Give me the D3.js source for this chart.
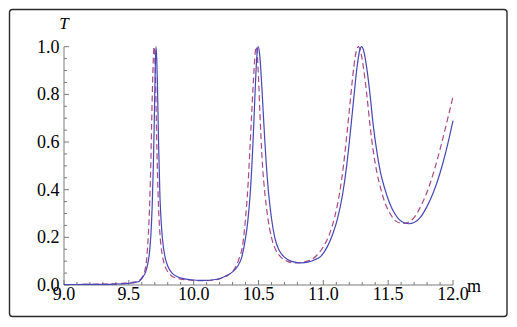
<!DOCTYPE html>
<html>
<head>
<meta charset="utf-8">
<script src="https://cdn.jsdelivr.net/npm/d3@7"></script>
<style>
  body { margin: 0; background: #fff; }
  text { font-family: "Liberation Serif", "DejaVu Serif", serif; }
</style>
</head>
<body>
<div id="chart"></div>
<script>
{
  const width = 517;
  const height = 327;
  const serif = "Liberation Serif";

  // tick values
  const xTicks = [9.0, 9.5, 10.0, 10.5, 11.0, 11.5, 12.0];
  const yTicks = [0.0, 0.2, 0.4, 0.6, 0.8, 1.0];

  // solid curve, [m, T]
  const solidCurve = [
    [9.00, 0.002], [9.10, 0.002], [9.20, 0.003], [9.30, 0.003], [9.40, 0.004], [9.45, 0.005], [9.50, 0.007], [9.55, 0.011],
    [9.58, 0.016], [9.61, 0.035], [9.63, 0.055], [9.65, 0.10], [9.66, 0.14], [9.67, 0.21], [9.68, 0.33], [9.69, 0.52],
    [9.695, 0.65], [9.70, 0.80], [9.705, 0.94], [9.7095, 1.0], [9.715, 0.95], [9.72, 0.86], [9.725, 0.72], [9.73, 0.58],
    [9.74, 0.37], [9.75, 0.26], [9.76, 0.19], [9.78, 0.115], [9.80, 0.08], [9.83, 0.052], [9.87, 0.036], [9.92, 0.027],
    [9.98, 0.022], [10.05, 0.019], [10.12, 0.02], [10.18, 0.024], [10.24, 0.036], [10.30, 0.055], [10.34, 0.08], [10.37, 0.115],
    [10.397, 0.187], [10.417, 0.265], [10.437, 0.39], [10.447, 0.48], [10.457, 0.59], [10.467, 0.72], [10.477, 0.852], [10.487, 0.958],
    [10.497, 1.0], [10.507, 0.976], [10.517, 0.911], [10.527, 0.82], [10.537, 0.719], [10.547, 0.621], [10.557, 0.532], [10.577, 0.39],
    [10.60, 0.28], [10.625, 0.20], [10.66, 0.145], [10.70, 0.117], [10.75, 0.10], [10.80, 0.094], [10.83, 0.093], [10.88, 0.096],
    [10.93, 0.105], [10.98, 0.12], [11.03, 0.16], [11.07, 0.21], [11.11, 0.28], [11.15, 0.385], [11.18, 0.50], [11.21, 0.65],
    [11.235, 0.785], [11.26, 0.915], [11.28, 0.983], [11.295, 1.0], [11.31, 0.985], [11.335, 0.91], [11.36, 0.80], [11.385, 0.67],
    [11.41, 0.57], [11.44, 0.475], [11.476, 0.40], [11.51, 0.345], [11.55, 0.30], [11.59, 0.272], [11.63, 0.26], [11.66, 0.257],
    [11.70, 0.262], [11.75, 0.285], [11.80, 0.33], [11.85, 0.39], [11.90, 0.47], [11.95, 0.57], [12.00, 0.69]
  ];

  // dashed curve, [m, T]
  const dashedCurve = [
    [9.00, 0.002], [9.10, 0.002], [9.20, 0.003], [9.30, 0.004], [9.40, 0.005], [9.45, 0.007], [9.50, 0.009], [9.54, 0.012],
    [9.57, 0.016], [9.60, 0.03], [9.625, 0.063], [9.645, 0.16], [9.655, 0.26], [9.663, 0.38], [9.67, 0.52], [9.676, 0.68],
    [9.682, 0.82], [9.689, 0.95], [9.694, 1.0], [9.70, 0.96], [9.707, 0.84], [9.712, 0.70], [9.717, 0.56], [9.722, 0.45],
    [9.728, 0.34], [9.738, 0.23], [9.748, 0.165], [9.76, 0.12], [9.78, 0.077], [9.80, 0.056], [9.83, 0.038], [9.88, 0.027],
    [9.94, 0.022], [10.00, 0.019], [10.08, 0.018], [10.14, 0.02], [10.20, 0.026], [10.27, 0.043], [10.32, 0.072], [10.35, 0.11],
    [10.38, 0.175], [10.40, 0.28], [10.417, 0.40], [10.432, 0.55], [10.447, 0.713], [10.461, 0.86], [10.471, 0.95], [10.481, 1.0],
    [10.491, 0.965], [10.50, 0.87], [10.511, 0.72], [10.52, 0.61], [10.53, 0.51], [10.55, 0.38], [10.57, 0.29], [10.60, 0.20],
    [10.635, 0.145], [10.67, 0.118], [10.72, 0.10], [10.77, 0.093], [10.80, 0.093], [10.85, 0.097], [10.91, 0.107], [10.95, 0.125],
    [11.00, 0.16], [11.045, 0.21], [11.085, 0.28], [11.125, 0.385], [11.155, 0.50], [11.185, 0.65], [11.21, 0.785], [11.235, 0.915],
    [11.255, 0.983], [11.27, 1.0], [11.285, 0.985], [11.31, 0.91], [11.335, 0.80], [11.36, 0.67], [11.383, 0.57], [11.412, 0.475],
    [11.445, 0.40], [11.475, 0.345], [11.515, 0.30], [11.55, 0.272], [11.59, 0.26], [11.62, 0.258], [11.66, 0.264], [11.71, 0.29],
    [11.76, 0.34], [11.81, 0.405], [11.86, 0.49], [11.91, 0.59], [11.96, 0.70], [12.00, 0.79]
  ];

  const x = d3.scaleLinear().domain([9, 12]).range([64, 453]);
  const y = d3.scaleLinear().domain([0, 1]).range([285, 46.7]);

  const svg = d3.select("#chart")
    .append("svg")
    .attr("width", width)
    .attr("height", height);

  // outer frame
  svg.append("rect")
    .attr("x", 9.5).attr("y", 9.5)
    .attr("width", 497.5).attr("height", 307)
    .attr("rx", 3)
    .attr("fill", "none")
    .attr("stroke", "#2a2a2a")
    .attr("stroke-width", 1.4);

  const axisColor = "#7a7a7a";

  // x axis
  const xAxis = svg.append("g").attr("id", "xAxis");
  xAxis.append("line")
    .attr("x1", x(9)).attr("x2", x(12))
    .attr("y1", y(0)).attr("y2", y(0))
    .attr("stroke", axisColor);
  xAxis.selectAll("line.tick")
    .data(d3.range(0, 31).map(i => 9 + i * 0.1))
    .enter()
    .append("line")
    .attr("class", "tick")
    .attr("x1", d => x(d)).attr("x2", d => x(d))
    .attr("y1", y(0))
    .attr("y2", (d, i) => y(0) - (i % 5 == 0 ? 5 : 3))
    .attr("stroke", axisColor);
  xAxis.selectAll("text")
    .data(xTicks)
    .enter()
    .append("text")
    .attr("x", d => x(d))
    .attr("y", 299.5)
    .attr("text-anchor", "middle")
    .attr("font-family", serif)
    .attr("font-size", 18)
    .text(d => d.toFixed(1));

  // y axis
  const yAxis = svg.append("g").attr("id", "yAxis");
  yAxis.append("line")
    .attr("x1", x(9)).attr("x2", x(9))
    .attr("y1", y(0)).attr("y2", y(1))
    .attr("stroke", axisColor);
  yAxis.selectAll("line.tick")
    .data(d3.range(0, 21).map(i => i * 0.05))
    .enter()
    .append("line")
    .attr("class", "tick")
    .attr("x1", x(9))
    .attr("x2", (d, i) => x(9) + (i % 4 == 0 ? 5 : 3))
    .attr("y1", d => y(d)).attr("y2", d => y(d))
    .attr("stroke", axisColor);
  yAxis.selectAll("text")
    .data(yTicks)
    .enter()
    .append("text")
    .attr("x", 59.5)
    .attr("y", d => y(d) + 6)
    .attr("text-anchor", "end")
    .attr("font-family", serif)
    .attr("font-size", 18)
    .text(d => d.toFixed(1));

  // axis labels
  svg.append("text")
    .attr("x", 467).attr("y", 292)
    .attr("font-family", serif)
    .attr("font-size", 18)
    .text("m");
  svg.append("text")
    .attr("x", 64).attr("y", 29)
    .attr("text-anchor", "middle")
    .attr("font-family", serif)
    .attr("font-size", 17)
    .attr("font-style", "italic")
    .text("T");

  const line = d3.line()
    .x(d => x(d[0]))
    .y(d => y(d[1]))
    .curve(d3.curveMonotoneX);

  svg.append("path")
    .datum(dashedCurve)
    .attr("d", line)
    .attr("fill", "none")
    .attr("stroke", "#a84a84")
    .attr("stroke-width", 1.2)
    .attr("stroke-dasharray", "6,3.5");

  svg.append("path")
    .datum(solidCurve)
    .attr("d", line)
    .attr("fill", "none")
    .attr("stroke", "#4646b4")
    .attr("stroke-width", 1.2);
}
</script>
</body>
</html>
